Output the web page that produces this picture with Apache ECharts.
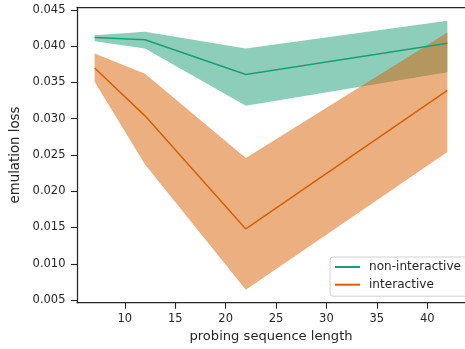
<!DOCTYPE html>
<html><head><meta charset="utf-8">
<script src="https://cdn.jsdelivr.net/npm/echarts@6/dist/echarts.min.js"></script>
<style>html,body{margin:0;padding:0;background:#fff}#c{width:465px;height:349px}</style>
</head><body><div id="c"></div>
<script>
var lengths = [7, 12, 22, 42];
var nonMean = [0.0412, 0.0409, 0.0361, 0.0404];
var nonLow  = [0.0407, 0.0397, 0.0318, 0.0364];
var nonHigh = [0.0415, 0.0420, 0.0397, 0.0435];
var intMean = [0.0370, 0.0304, 0.0148, 0.0339];
var intLow  = [0.0351, 0.0237, 0.0064, 0.0254];
var intHigh = [0.0390, 0.0362, 0.0246, 0.0419];
var yTicks = [0.005, 0.010, 0.015, 0.020, 0.025, 0.030, 0.035, 0.040, 0.045];
var xTicks = [10, 15, 20, 25, 30, 35, 40];

var GREEN = '#1b9e77', ORANGE = '#d95f02';
var FONT = 'DejaVu Sans';
var AX = '#262626';

function pairs(xs, ys){ return xs.map(function(x,i){ return [x, ys[i]]; }); }
function bandData(xs, lo, hi){ return xs.map(function(x,i){ return [x, lo[i], hi[i]]; }); }
function bandSeries(name, data, color){
  return {
    type: 'custom', name: name + ' band', silent: true,
    data: data,
    encode: {x: 0, y: [1, 2]},
    renderItem: function(params, api){
      if (params.dataIndex !== 0) return null;
      var pts = [];
      for (var i = 0; i < data.length; i++) pts.push(api.coord([data[i][0], data[i][2]]));
      for (var j = data.length - 1; j >= 0; j--) pts.push(api.coord([data[j][0], data[j][1]]));
      return {type: 'polygon', shape: {points: pts}, style: {fill: color, opacity: 0.5}};
    }
  };
}

var chart = echarts.init(document.getElementById('c'), null, {renderer: 'canvas'});
chart.setOption({
  animation: false,
  backgroundColor: '#fff',
  grid: {left: 77, right: -8, top: 7.3, bottom: 46.3, containLabel: false},
  xAxis: [{
    type: 'value', min: 5.25, max: 43.75,
    name: 'probing sequence length', nameLocation: 'middle', nameGap: 26,
    nameTextStyle: {fontFamily: FONT, fontSize: 13.1, color: AX},
    axisLine: {show: true, lineStyle: {color: AX, width: 1.25}},
    axisTick: {show: true, length: 6, lineStyle: {color: AX, width: 1.1}, customValues: xTicks},
    axisLabel: {fontFamily: FONT, fontSize: 11.5, color: AX, margin: 10, customValues: xTicks},
    splitLine: {show: false}
  }, {
    type: 'value', position: 'top', min: 5.25, max: 43.75,
    axisLine: {show: true, onZero: false, lineStyle: {color: AX, width: 1.25}},
    axisTick: {show: false}, axisLabel: {show: false}, splitLine: {show: false}
  }],
  yAxis: {
    type: 'value', min: 0.00463, max: 0.04537,
    name: 'emulation loss', nameLocation: 'middle', nameGap: 40,
    nameTextStyle: {fontFamily: FONT, fontSize: 13.3, color: AX},
    axisLine: {show: true, lineStyle: {color: AX, width: 1.25}},
    axisTick: {show: true, length: 6, lineStyle: {color: AX, width: 1.1}, customValues: yTicks},
    axisLabel: {fontFamily: FONT, fontSize: 11.5, color: AX, margin: 11.5, customValues: yTicks,
      formatter: function(v){ return v.toFixed(3); }},
    splitLine: {show: false}
  },
  legend: {
    data: ['non-interactive', 'interactive'],
    orient: 'vertical', left: 330, top: 257,
    padding: [3.5, 20, 5, 5],
    itemWidth: 25, itemHeight: 2, itemGap: 4.7, icon: 'rect',
    textStyle: {fontFamily: FONT, fontSize: 12.1, color: AX, padding: [0, 0, 0, 4], lineHeight: 13},
    borderColor: '#d0d0d0', borderWidth: 1, borderRadius: 3,
    backgroundColor: 'rgba(255,255,255,0.8)'
  },
  series: [
    bandSeries('non-interactive', bandData(lengths, nonLow, nonHigh), GREEN),
    {type: 'line', name: 'non-interactive', data: pairs(lengths, nonMean), symbol: 'none',
      lineStyle: {color: GREEN, width: 1.5}, itemStyle: {color: GREEN}},
    bandSeries('interactive', bandData(lengths, intLow, intHigh), ORANGE),
    {type: 'line', name: 'interactive', data: pairs(lengths, intMean), symbol: 'none',
      lineStyle: {color: ORANGE, width: 1.5}, itemStyle: {color: ORANGE}}
  ]
});
</script></body></html>
